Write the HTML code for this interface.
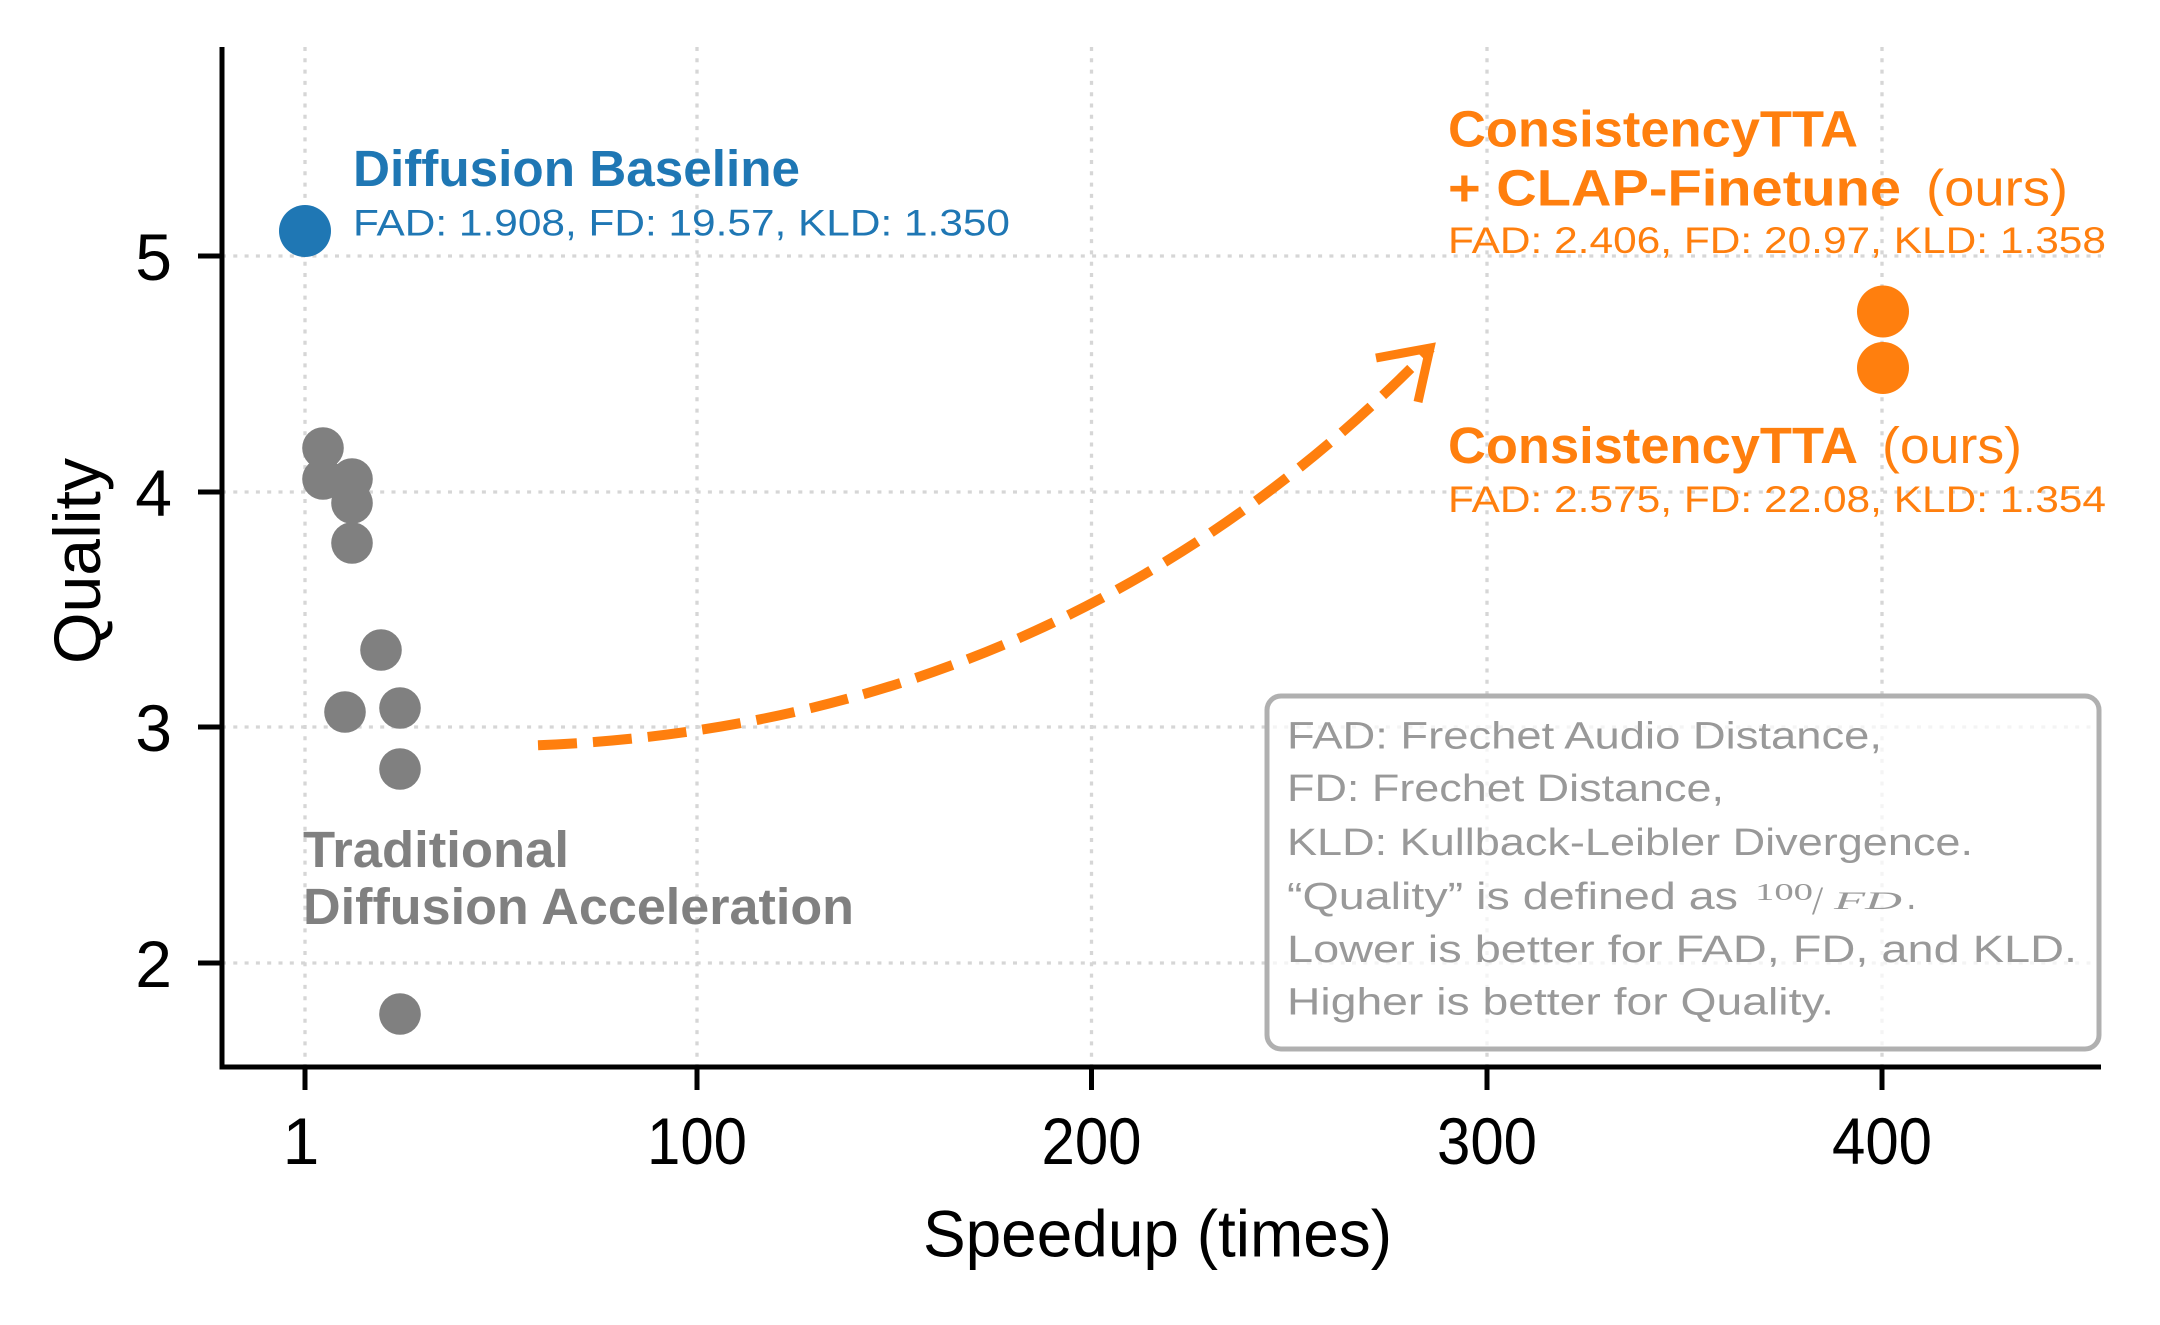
<!DOCTYPE html>
<html>
<head>
<meta charset="utf-8">
<style>
  html, body { margin: 0; padding: 0; background: #ffffff; }
  svg { display: block; }
  text { font-family: "Liberation Sans", "DejaVu Sans", sans-serif; }
</style>
</head>
<body>
<svg xmlns="http://www.w3.org/2000/svg" width="2160" height="1325" viewBox="0 0 2160 1325">
  <rect x="0" y="0" width="2160" height="1325" fill="#ffffff"/>

  <!-- grid lines -->
  <g stroke="#d6d6d6" stroke-width="3.3" stroke-dasharray="4 7.3" fill="none">
    <line x1="305" y1="47" x2="305" y2="1067"/>
    <line x1="697" y1="47" x2="697" y2="1067"/>
    <line x1="1091.5" y1="47" x2="1091.5" y2="1067"/>
    <line x1="1487" y1="47" x2="1487" y2="1067"/>
    <line x1="1882" y1="47" x2="1882" y2="1067"/>
    <line x1="222" y1="256" x2="2101" y2="256"/>
    <line x1="222" y1="492" x2="2101" y2="492"/>
    <line x1="222" y1="727" x2="2101" y2="727"/>
    <line x1="222" y1="963" x2="2101" y2="963"/>
  </g>

  <!-- legend / info box -->
  <rect x="1267" y="696" width="832" height="353" rx="14" ry="14" fill="#ffffff" fill-opacity="0.72" stroke="#b0b0b0" stroke-width="5"/>
  <g fill="#999999" font-size="38">
    <text x="1287" y="748.5" textLength="595" lengthAdjust="spacingAndGlyphs">FAD: Frechet Audio Distance,</text>
    <text x="1287" y="801" textLength="437" lengthAdjust="spacingAndGlyphs">FD: Frechet Distance,</text>
    <text x="1287" y="855" textLength="686" lengthAdjust="spacingAndGlyphs">KLD: Kullback-Leibler Divergence.</text>
    <text x="1287" y="909" textLength="451" lengthAdjust="spacingAndGlyphs">“Quality” is defined as</text>
    <text x="1755" y="900" font-size="24" textLength="58" lengthAdjust="spacingAndGlyphs" style="font-family:'Liberation Serif',serif;">100</text>
    <text x="1812" y="914" font-size="40" style="font-family:'Liberation Serif',serif;">/</text>
    <text x="1834" y="909" font-size="25" font-style="italic" textLength="68" lengthAdjust="spacingAndGlyphs" style="font-family:'Liberation Serif',serif;">FD</text>
    <text x="1906" y="909">.</text>
    <text x="1287" y="962" textLength="790" lengthAdjust="spacingAndGlyphs">Lower is better for FAD, FD, and KLD.</text>
    <text x="1287" y="1014.5" textLength="547" lengthAdjust="spacingAndGlyphs">Higher is better for Quality.</text>
  </g>

  <!-- dashed curved arrow -->
  <path d="M 538 745.3 Q 1065 724.5 1431 348" fill="none" stroke="#ff7f0e" stroke-width="10" stroke-dasharray="39 16" stroke-linecap="butt"/>
  <polyline points="1376,358 1430,348 1418,402" fill="none" stroke="#ff7f0e" stroke-width="9" stroke-linejoin="miter" stroke-linecap="butt"/>

  <!-- gray points -->
  <g fill="#808080">
    <circle cx="323" cy="448" r="20.8"/>
    <circle cx="323" cy="479" r="20.8"/>
    <circle cx="352" cy="479" r="20.8"/>
    <circle cx="352" cy="503" r="20.8"/>
    <circle cx="352" cy="543" r="20.8"/>
    <circle cx="381" cy="650" r="20.8"/>
    <circle cx="345" cy="712" r="20.8"/>
    <circle cx="400" cy="708" r="20.8"/>
    <circle cx="400" cy="769" r="20.8"/>
    <circle cx="400" cy="1014" r="20.8"/>
  </g>

  <!-- blue point -->
  <circle cx="305" cy="231" r="26" fill="#1f77b4"/>
  <!-- orange points -->
  <circle cx="1883" cy="311.5" r="26" fill="#ff7f0e"/>
  <circle cx="1883" cy="368" r="26" fill="#ff7f0e"/>

  <!-- annotations -->
  <g fill="#1f77b4">
    <text x="353" y="186" font-size="51" font-weight="bold" textLength="447" lengthAdjust="spacingAndGlyphs">Diffusion Baseline</text>
    <text x="353" y="235.5" font-size="37" textLength="657" lengthAdjust="spacingAndGlyphs">FAD: 1.908, FD: 19.57, KLD: 1.350</text>
  </g>
  <g fill="#ff7f0e">
    <text x="1448" y="146.5" font-size="51" font-weight="bold" textLength="410" lengthAdjust="spacingAndGlyphs">ConsistencyTTA</text>
    <text x="1448" y="205.6" font-size="51" font-weight="bold" textLength="453" lengthAdjust="spacingAndGlyphs">+ CLAP-Finetune</text>
    <text x="1926" y="205.6" font-size="51" textLength="142" lengthAdjust="spacingAndGlyphs">(ours)</text>
    <text x="1448" y="253" font-size="37" textLength="658" lengthAdjust="spacingAndGlyphs">FAD: 2.406, FD: 20.97, KLD: 1.358</text>

    <text x="1448" y="463" font-size="51" font-weight="bold" textLength="410" lengthAdjust="spacingAndGlyphs">ConsistencyTTA</text>
    <text x="1882" y="463" font-size="51" textLength="140" lengthAdjust="spacingAndGlyphs">(ours)</text>
    <text x="1448" y="512" font-size="37" textLength="658" lengthAdjust="spacingAndGlyphs">FAD: 2.575, FD: 22.08, KLD: 1.354</text>
  </g>
  <g fill="#808080">
    <text x="303" y="867" font-size="51" font-weight="bold" textLength="266" lengthAdjust="spacingAndGlyphs">Traditional</text>
    <text x="303" y="924" font-size="51" font-weight="bold" textLength="551" lengthAdjust="spacingAndGlyphs">Diffusion Acceleration</text>
  </g>

  <!-- spines -->
  <g stroke="#000000" stroke-width="5" fill="none">
    <line x1="222" y1="47" x2="222" y2="1069.5"/>
    <line x1="219.5" y1="1067" x2="2101" y2="1067"/>
    <!-- y ticks -->
    <line x1="198" y1="256" x2="222" y2="256"/>
    <line x1="198" y1="492" x2="222" y2="492"/>
    <line x1="198" y1="727" x2="222" y2="727"/>
    <line x1="198" y1="963" x2="222" y2="963"/>
    <!-- x ticks -->
    <line x1="305" y1="1067" x2="305" y2="1090"/>
    <line x1="697" y1="1067" x2="697" y2="1090"/>
    <line x1="1091.5" y1="1067" x2="1091.5" y2="1090"/>
    <line x1="1487" y1="1067" x2="1487" y2="1090"/>
    <line x1="1882" y1="1067" x2="1882" y2="1090"/>
  </g>

  <!-- tick labels -->
  <g fill="#000000" font-size="66">
    <text x="172" y="280" text-anchor="end">5</text>
    <text x="172" y="516" text-anchor="end">4</text>
    <text x="172" y="751" text-anchor="end">3</text>
    <text x="172" y="987" text-anchor="end">2</text>

    <text x="301" y="1164" text-anchor="middle">1</text>
    <text x="647" y="1164" textLength="100" lengthAdjust="spacingAndGlyphs">100</text>
    <text x="1041.5" y="1164" textLength="100" lengthAdjust="spacingAndGlyphs">200</text>
    <text x="1437" y="1164" textLength="100" lengthAdjust="spacingAndGlyphs">300</text>
    <text x="1832" y="1164" textLength="100" lengthAdjust="spacingAndGlyphs">400</text>
  </g>

  <!-- axis labels -->
  <text x="923" y="1256.7" font-size="66" fill="#000000" textLength="469" lengthAdjust="spacingAndGlyphs">Speedup (times)</text>
  <text transform="translate(100,664) rotate(-90)" x="0" y="0" font-size="66" fill="#000000" textLength="206" lengthAdjust="spacingAndGlyphs">Quality</text>
</svg>
</body>
</html>
